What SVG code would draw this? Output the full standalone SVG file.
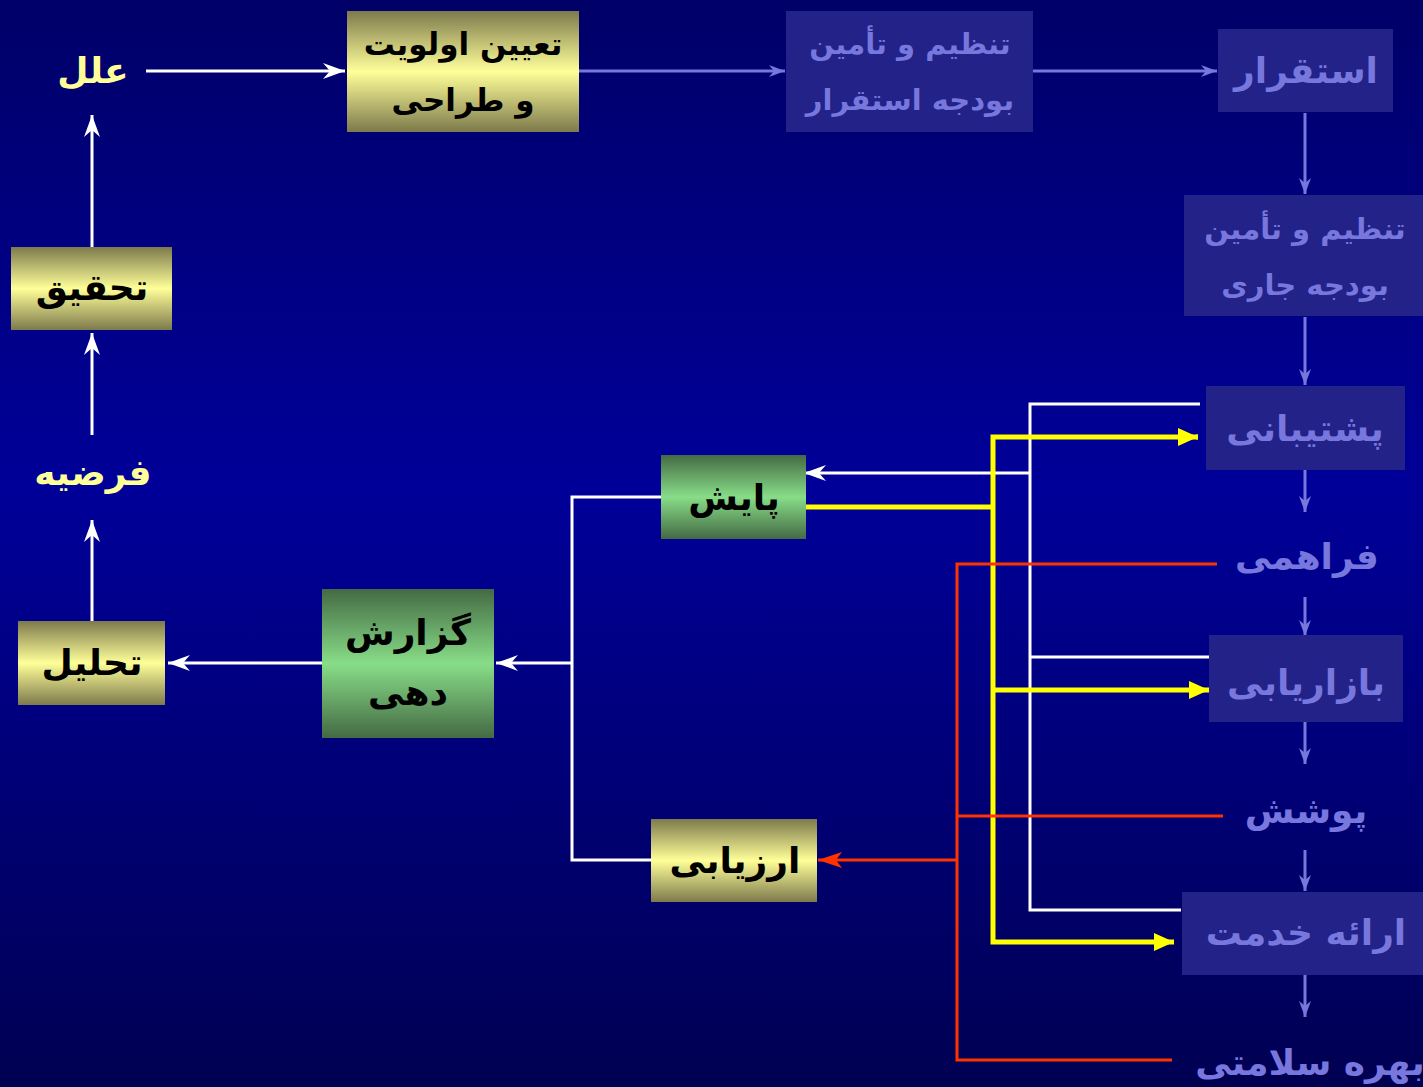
<svg xmlns="http://www.w3.org/2000/svg" width="1423" height="1087" viewBox="0 0 1423 1087">
<defs>
<linearGradient id="bg" x1="0" y1="0" x2="0" y2="1">
<stop offset="0" stop-color="#000068"/>
<stop offset="0.45" stop-color="#000099"/>
<stop offset="1" stop-color="#000052"/>
</linearGradient>
<linearGradient id="yel" x1="0" y1="0" x2="0" y2="1">
<stop offset="0" stop-color="#7d7a4c"/>
<stop offset="0.5" stop-color="#ffff99"/>
<stop offset="1" stop-color="#7d7a4c"/>
</linearGradient>
<linearGradient id="grn" x1="0" y1="0" x2="0" y2="1">
<stop offset="0" stop-color="#446a44"/>
<stop offset="0.5" stop-color="#88dd88"/>
<stop offset="1" stop-color="#446a44"/>
</linearGradient>
<marker id="aw" markerUnits="userSpaceOnUse" markerWidth="24" markerHeight="18" refX="22" refY="8" orient="auto">
<path d="M0,0 L22,8 L0,16 L7,8 z" fill="#ffffff"/>
</marker>
<marker id="as" markerUnits="userSpaceOnUse" markerWidth="20" markerHeight="16" refX="16" refY="7" orient="auto">
<path d="M0,1 L16,7 L0,13 L5,7 z" fill="#7777dd"/>
</marker>
<marker id="ay" markerUnits="userSpaceOnUse" markerWidth="22" markerHeight="20" refX="20" refY="9" orient="auto">
<path d="M0,0 L20,9 L0,18 z" fill="#ffff00"/>
</marker>
<marker id="ar" markerUnits="userSpaceOnUse" markerWidth="26" markerHeight="20" refX="24" refY="9" orient="auto">
<path d="M0,1 L24,9 L0,17 L6,9 z" fill="#ff3300"/>
</marker>
</defs>
<style>
.t{font-family:"DejaVu Sans",sans-serif;font-weight:bold;text-anchor:middle;dominant-baseline:central}
.dk{fill:#000000}
.yl{fill:#ffff99}
.sl{fill:#7777dd}
.sbox{fill:#222288}
.w{stroke:#ffffff;stroke-width:3;fill:none}
.s{stroke:#7777dd;stroke-width:3;fill:none}
.y{stroke:#ffff00;stroke-width:5;fill:none}
.r{stroke:#ff3300;stroke-width:3;fill:none}
</style>
<rect x="0" y="0" width="1423" height="1087" fill="url(#bg)"/>

<g id="connectors">
<line class="w" x1="146" y1="71" x2="345" y2="71" marker-end="url(#aw)"/>
<line class="s" x1="579" y1="71" x2="785" y2="71" marker-end="url(#as)"/>
<line class="s" x1="1033" y1="71" x2="1217" y2="71" marker-end="url(#as)"/>
<line class="w" x1="92" y1="247" x2="92" y2="115" marker-end="url(#aw)"/>
<line class="w" x1="92" y1="435" x2="92" y2="333" marker-end="url(#aw)"/>
<line class="w" x1="92" y1="621" x2="92" y2="520" marker-end="url(#aw)"/>
<line class="w" x1="328" y1="663" x2="168" y2="663" marker-end="url(#aw)"/>
<polyline class="w" points="661,497 572,497 572,860 651,860"/>
<line class="w" x1="572" y1="663" x2="496" y2="663" marker-end="url(#aw)"/>
<polyline class="w" points="1200,404 1030,404 1030,910 1181,910"/>
<line class="w" x1="1030" y1="657" x2="1210" y2="657"/>
<line class="w" x1="1030" y1="473" x2="804" y2="473" marker-end="url(#aw)"/>
<line class="y" x1="806" y1="507" x2="993" y2="507"/>
<polyline class="y" points="1198,437 993,437 993,942 1174,942" marker-end="url(#ay)"/>
<line class="y" x1="1196" y1="437" x2="1198" y2="437" marker-end="url(#ay)"/>
<line class="y" x1="993" y1="690" x2="1209" y2="690" marker-end="url(#ay)"/>
<polyline class="r" points="1217,564 957,564 957,1060 1172,1060"/>
<line class="r" x1="957" y1="816" x2="1223" y2="816"/>
<line class="r" x1="957" y1="860" x2="818" y2="860" marker-end="url(#ar)"/>
<line class="s" x1="1305" y1="113" x2="1305" y2="194" marker-end="url(#as)"/>
<line class="s" x1="1305" y1="317" x2="1305" y2="385" marker-end="url(#as)"/>
<line class="s" x1="1305" y1="470" x2="1305" y2="512" marker-end="url(#as)"/>
<line class="s" x1="1305" y1="597" x2="1305" y2="636" marker-end="url(#as)"/>
<line class="s" x1="1305" y1="722" x2="1305" y2="764" marker-end="url(#as)"/>
<line class="s" x1="1305" y1="850" x2="1305" y2="891" marker-end="url(#as)"/>
<line class="s" x1="1305" y1="975" x2="1305" y2="1017" marker-end="url(#as)"/>
</g>

<g id="elal"><text class="t yl" x="93" y="70" font-size="36">علل</text></g>
<g id="tayin"><rect x="347" y="11" width="232" height="121" fill="url(#yel)"/>
<text class="t dk" x="463" y="44" font-size="31">تعیین اولویت</text>
<text class="t dk" x="463" y="100" font-size="31">و طراحی</text></g>
<g id="budget1"><rect class="sbox" x="786" y="11" width="247" height="121"/>
<text class="t sl" x="910" y="44" font-size="29">تنظیم و تأمین</text>
<text class="t sl" x="910" y="100" font-size="29">بودجه استقرار</text></g>
<g id="esteghrar"><rect class="sbox" x="1218" y="29" width="175" height="83"/>
<text class="t sl" x="1306" y="70" font-size="36">استقرار</text></g>
<g id="budget2"><rect class="sbox" x="1184" y="195" width="239" height="121"/>
<text class="t sl" x="1305" y="229" font-size="29">تنظیم و تأمین</text>
<text class="t sl" x="1305" y="285" font-size="29">بودجه جاری</text></g>
<g id="poshtibani"><rect class="sbox" x="1206" y="386" width="199" height="84"/>
<text class="t sl" x="1305" y="428" font-size="36">پشتیبانی</text></g>
<g id="faraham"><text class="t sl" x="1307" y="556" font-size="36">فراهمی</text></g>
<g id="bazaryabi"><rect class="sbox" x="1209" y="635" width="194" height="87"/>
<text class="t sl" x="1306" y="682" font-size="36">بازاریابی</text></g>
<g id="pooshesh"><text class="t sl" x="1306" y="810" font-size="36">پوشش</text></g>
<g id="erae"><rect class="sbox" x="1182" y="892" width="241" height="83"/>
<text class="t sl" x="1306" y="932" font-size="36">ارائه خدمت</text></g>
<g id="bahre"><text class="t sl" x="1310" y="1062" font-size="36">بهره سلامتی</text></g>
<g id="tahghigh"><rect x="11" y="247" width="161" height="83" fill="url(#yel)"/>
<text class="t dk" x="92" y="287" font-size="36">تحقیق</text></g>
<g id="farzieh"><text class="t yl" x="93" y="472" font-size="36">فرضیه</text></g>
<g id="tahlil"><rect x="18" y="621" width="147" height="84" fill="url(#yel)"/>
<text class="t dk" x="92" y="662" font-size="36">تحلیل</text></g>
<g id="gozaresh"><rect x="322" y="589" width="172" height="149" fill="url(#grn)"/>
<text class="t dk" x="408" y="632" font-size="36">گزارش</text>
<text class="t dk" x="408" y="692" font-size="36">دهی</text></g>
<g id="payesh"><rect x="661" y="455" width="145" height="84" fill="url(#grn)"/>
<text class="t dk" x="734" y="497" font-size="36">پایش</text></g>
<g id="arzyabi"><rect x="651" y="819" width="166" height="83" fill="url(#yel)"/>
<text class="t dk" x="735" y="860" font-size="36">ارزیابی</text></g>
</svg>
